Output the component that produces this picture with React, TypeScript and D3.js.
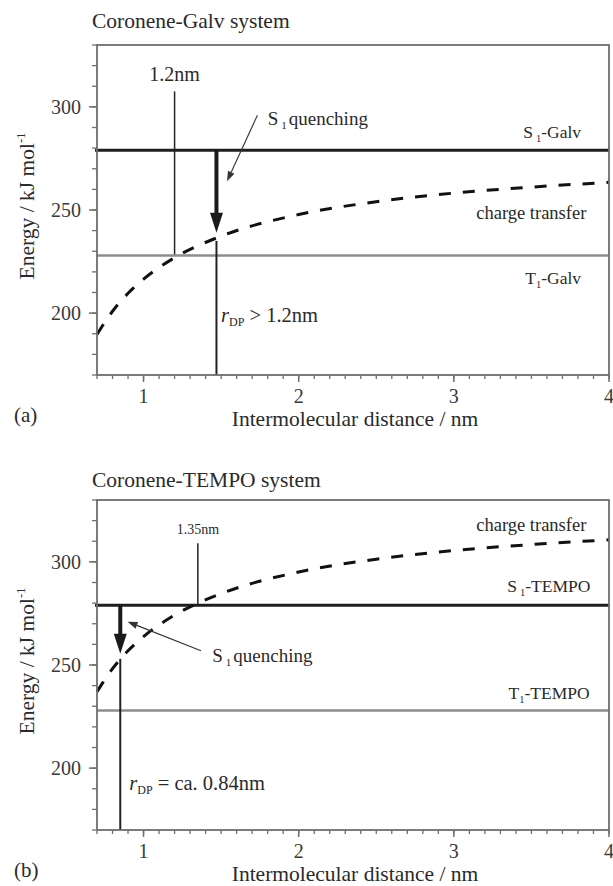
import React from 'react';
import * as d3 from 'd3';

// axes
const xDomain: [number, number] = [0.7, 4];
const yDomain: [number, number] = [170, 330];
const xTickValues = [1, 2, 3, 4];
const yTickValues = [200, 250, 300];

// charge transfer curves
const distance = [0.7, 0.8, 0.9, 1.0, 1.2, 1.5, 2.0, 2.5, 3.0, 3.5, 4.0];
const galvChargeTransfer = [189.7, 200.9, 209.6, 216.5, 226.9, 237.3, 247.8, 254.0, 258.2, 261.1, 263.4];
const tempoChargeTransfer = [237.0, 248.2, 256.9, 263.8, 274.2, 284.6, 295.1, 301.3, 305.5, 308.4, 310.7];

// energy levels (kJ/mol)
const galvS1 = 279;
const galvT1 = 228;
const tempoS1 = 279;
const tempoT1 = 228;

// crossing / quenching distances (nm)
const galvCrossing = 1.2;
const galvQuench = 1.47;
const tempoCrossing = 1.35;
const tempoQuench = 0.85;

const W = 613;
const H = 886;
const plotLeft = 97;
const plotRight = 609;
const plotH = 330;
const serif = '"Liberation Serif", "DejaVu Serif", serif';
const ink = '#2a2a2a';

function Panel(props: any) {
  const { top, title, titleGap, tag, ct, s1, t1, cross, crossTop, crossLabel, crossLabelSize,
    quench, quenchTip, quenchLineFrom, pointer, quenchLabelAt, s1Label, t1Label, ctLabel, rdpLabel, rdpAt,
    s1LabelAt, t1LabelAt, ctLabelAt, crossBottom } = props;
  const x = d3.scaleLinear().domain(xDomain).range([plotLeft, plotRight]);
  const y = d3.scaleLinear().domain(yDomain).range([top + plotH, top]);
  const bottom = top + plotH;

  const line = d3.line<number>()
    .x((_, i) => x(distance[i]))
    .y(d => y(d))
    .curve(d3.curveMonotoneX);

  const xMinor = d3.range(7, 41).map(i => i / 10);
  const yMinor = d3.range(170, 331, 10);

  // thick quench arrow
  const qx = x(quench);
  const tipY = y(quenchTip);
  const headH = 20, headW = 6.5;
  const shaft = `M${qx - 2},${y(s1)}L${qx + 2},${y(s1)}L${qx + 2},${tipY - headH + 1}L${qx - 2},${tipY - headH + 1}Z`;
  const head = `M${qx},${tipY}L${qx - headW},${tipY - headH}L${qx + headW},${tipY - headH}Z`;

  // pointer arrow
  const px1 = x(pointer[0]), py1 = y(pointer[1]), px2 = x(pointer[2]), py2 = y(pointer[3]);
  const ang = Math.atan2(py2 - py1, px2 - px1);
  const hl = 10, hw = 3.5;
  const bx = px2 - hl * Math.cos(ang), by = py2 - hl * Math.sin(ang);
  const pHead = `M${px2},${py2}L${bx + hw * Math.sin(ang)},${by - hw * Math.cos(ang)}L${bx - hw * Math.sin(ang)},${by + hw * Math.cos(ang)}Z`;

  return (
    <g fontFamily={serif} fill={ink}>
      <text x={92} y={top - titleGap} fontSize={21.5}>{title}</text>

      {/* levels */}
      <line x1={plotLeft - 2} x2={plotRight} y1={y(s1)} y2={y(s1)} stroke="#1e1e1e" strokeWidth={3} />
      <line x1={plotLeft} x2={plotRight} y1={y(t1)} y2={y(t1)} stroke="#8c8c8c" strokeWidth={2.5} />

      {/* crossing marker */}
      <line x1={x(cross)} x2={x(cross)} y1={y(crossTop)} y2={y(crossBottom)} stroke="#222" strokeWidth={1.5} />
      <text x={x(cross)} y={y(crossLabel[1])} fontSize={crossLabelSize} textAnchor="middle">{crossLabel[0]}</text>

      {/* quench line below the curve */}
      <line x1={qx} x2={qx} y1={y(quenchLineFrom)} y2={bottom} stroke="#222" strokeWidth={2} />
      <path d={shaft} fill="#1a1a1a" />
      <path d={head} fill="#1a1a1a" />

      {/* charge transfer curve */}
      <path d={line(ct) || ''} fill="none" stroke="#111" strokeWidth={3} strokeDasharray="12 12" />

      {/* pointer */}
      <line x1={px1} y1={py1} x2={bx} y2={by} stroke="#333" strokeWidth={1.1} />
      <path d={pHead} fill="#333" />

      {/* labels */}
      <text x={x(quenchLabelAt[0])} y={y(quenchLabelAt[1])} fontSize={19}>
        S<tspan fontSize={11} dy={4} dx={3}>1</tspan><tspan dy={-4} dx={2}>quenching</tspan>
      </text>
      <text x={x(s1LabelAt[0])} y={y(s1LabelAt[1])} fontSize={17.5} textAnchor="end">
        S<tspan fontSize={10.5} dy={4} dx={3}>1</tspan><tspan dy={-4}>{s1Label}</tspan>
      </text>
      <text x={x(t1LabelAt[0])} y={y(t1LabelAt[1])} fontSize={17.5} textAnchor="end">
        T<tspan fontSize={10.5} dy={4}>1</tspan><tspan dy={-4}>{t1Label}</tspan>
      </text>
      <text x={x(ctLabelAt[0])} y={y(ctLabelAt[1])} fontSize={18.5} textAnchor="end">{ctLabel}</text>
      <text x={x(rdpAt[0])} y={y(rdpAt[1])} fontSize={20.5}>
        <tspan fontStyle="italic">r</tspan><tspan fontSize={12} dy={4}>DP</tspan><tspan dy={-4}>{rdpLabel}</tspan>
      </text>

      {/* frame */}
      <rect x={plotLeft} y={top} width={plotRight - plotLeft} height={plotH} fill="none" stroke="#6e6e6e" strokeWidth={1.8} />

      {/* x axis ticks */}
      {xMinor.map(v => (
        <line key={'xm' + v} x1={x(v)} x2={x(v)} y1={bottom} y2={bottom + 4} stroke="#6e6e6e" strokeWidth={1.3} />
      ))}
      {xTickValues.map(v => (
        <g key={'xt' + v}>
          <line x1={x(v)} x2={x(v)} y1={bottom} y2={bottom + 7} stroke="#6e6e6e" strokeWidth={1.5} />
          <text x={x(v)} y={bottom + 28} fontSize={20} textAnchor="middle" fill="#3a3a3a">{v}</text>
        </g>
      ))}
      <text x={(plotLeft + plotRight) / 2 + 2} y={bottom + 51} fontSize={21.5} textAnchor="middle">Intermolecular distance / nm</text>
      <text x={14} y={bottom + 47} fontSize={21}>{tag}</text>

      {/* y axis ticks */}
      {yMinor.map(v => (
        <line key={'ym' + v} x1={plotLeft - 5} x2={plotLeft} y1={y(v)} y2={y(v)} stroke="#6e6e6e" strokeWidth={1.3} />
      ))}
      {yTickValues.map(v => (
        <g key={'yt' + v}>
          <line x1={plotLeft - 8} x2={plotLeft} y1={y(v)} y2={y(v)} stroke="#6e6e6e" strokeWidth={1.5} />
          <text x={81} y={y(v) + 7} fontSize={20} textAnchor="end" fill="#3a3a3a">{v}</text>
        </g>
      ))}
      <text transform={`translate(34,${top + plotH / 2 - 4}) rotate(-90)`} fontSize={21.5} textAnchor="middle">
        Energy / kJ mol<tspan fontSize={12.5} dy={-9}>-1</tspan>
      </text>
    </g>
  );
}

export default function App() {
  return (
    <svg width={W} height={H} style={{ position: 'absolute', left: 0, top: 0, background: '#fff' }}>
      <rect width={W} height={H} fill="#fff" />
      <Panel
        top={45}
        title="Coronene-Galv system"
        titleGap={17}
        tag="(a)"
        ct={galvChargeTransfer}
        s1={galvS1}
        t1={galvT1}
        cross={galvCrossing}
        crossTop={307.5}
        crossBottom={galvT1 + 0.5}
        crossLabel={['1.2nm', 312.4]}
        crossLabelSize={20}
        quench={galvQuench}
        quenchTip={239}
        quenchLineFrom={235}
        pointer={[1.734, 295.9, 1.538, 263.9]}
        quenchLabelAt={[1.8, 291.4]}
        s1Label="-Galv"
        s1LabelAt={[3.82, 285.1]}
        t1Label="-Galv"
        t1LabelAt={[3.82, 214.2]}
        ctLabel="charge transfer"
        ctLabelAt={[3.854, 245.8]}
        rdpLabel=" > 1.2nm"
        rdpAt={[1.5, 195.6]}
      />
      <Panel
        top={500}
        title="Coronene-TEMPO system"
        titleGap={13.5}
        tag="(b)"
        ct={tempoChargeTransfer}
        s1={tempoS1}
        t1={tempoT1}
        cross={tempoCrossing}
        crossTop={309}
        crossBottom={tempoS1}
        crossLabel={['1.35nm', 313.4]}
        crossLabelSize={14}
        quench={tempoQuench}
        quenchTip={255.5}
        quenchLineFrom={253}
        pointer={[1.37, 256.9, 0.897, 271]}
        quenchLabelAt={[1.443, 251.5]}
        s1Label="-TEMPO"
        s1LabelAt={[3.88, 285.6]}
        t1Label="-TEMPO"
        t1LabelAt={[3.875, 233.7]}
        ctLabel="charge transfer"
        ctLabelAt={[3.854, 315]}
        rdpLabel=" = ca. 0.84nm"
        rdpAt={[0.908, 189.5]}
      />
    </svg>
  );
}
